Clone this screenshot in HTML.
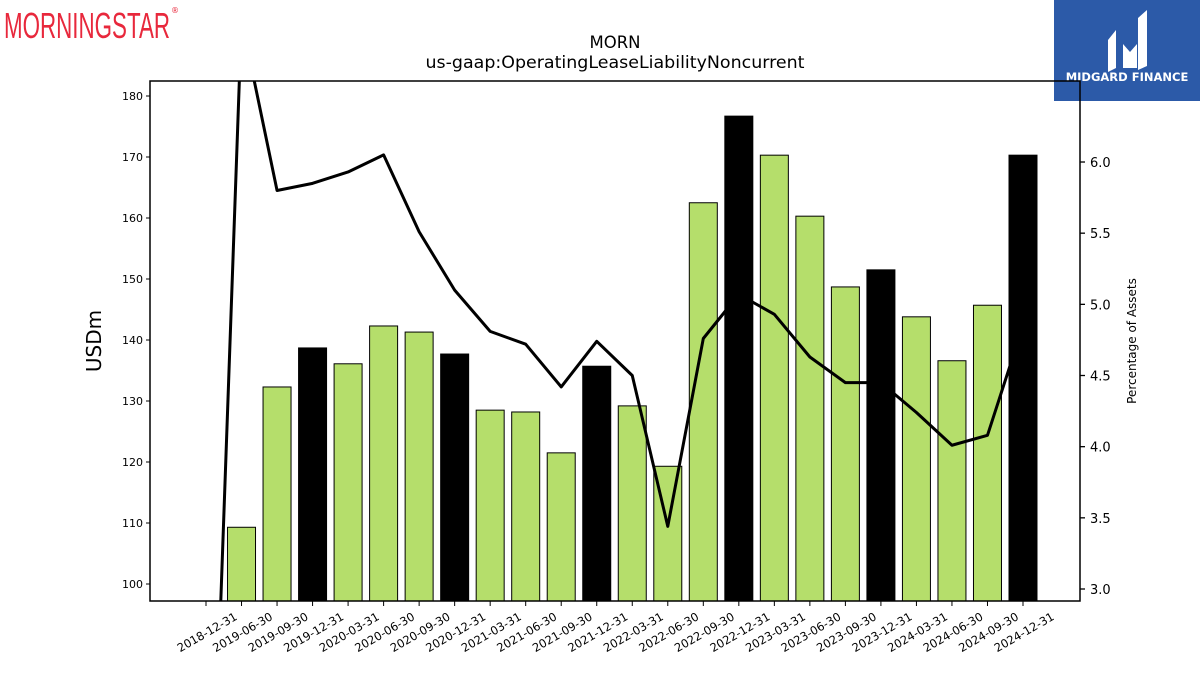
<!DOCTYPE html>
<html><head><meta charset="utf-8"><style>
html,body{margin:0;padding:0;background:#fff;width:1200px;height:675px;overflow:hidden;font-family:"Liberation Sans","DejaVu Sans",sans-serif}
svg{display:block}
</style></head><body>
<svg id="chart" width="1200" height="675" xmlns="http://www.w3.org/2000/svg" font-family="DejaVu Sans, Liberation Sans, sans-serif">
<g>
<text x="4" y="38" font-family="Liberation Sans Narrow, Liberation Sans, sans-serif" font-size="36" fill="#e8283c" textLength="166" lengthAdjust="spacingAndGlyphs">MORNINGSTAR</text>
<text x="171" y="13" font-size="8" fill="#e8283c">®</text>
</g>
<g>
<rect x="1054" y="0" width="146" height="101" fill="#2c5aa8"/>
<path d="M1108 40 L1116 30 L1116 68 L1108 72 Z M1123 44 L1130 52 L1137 44 L1137 68 L1123 68 Z M1138 18 L1147 10 L1147 66 L1138 70 Z" fill="#fff"/>
<text x="1127" y="81" font-size="11.5" font-weight="bold" fill="#fff" text-anchor="middle">MIDGARD FINANCE</text>
</g>
<text x="615" y="48" font-size="16.5" text-anchor="middle">MORN</text>
<text x="615" y="68" font-size="16.5" text-anchor="middle" textLength="379" lengthAdjust="spacingAndGlyphs">us-gaap:OperatingLeaseLiabilityNoncurrent</text>
<g id="plot"></g>
<text transform="translate(101,341) rotate(-90)" font-size="20" text-anchor="middle">USDm</text>
<text transform="translate(1136,341) rotate(-90)" font-size="12" text-anchor="middle">Percentage of Assets</text>
</svg>
<script>
const categories=["2018-12-31","2019-06-30","2019-09-30","2019-12-31","2020-03-31","2020-06-30","2020-09-30","2020-12-31","2021-03-31","2021-06-30","2021-09-30","2021-12-31","2022-03-31","2022-06-30","2022-09-30","2022-12-31","2023-03-31","2023-06-30","2023-09-30","2023-12-31","2024-03-31","2024-06-30","2024-09-30","2024-12-31"];
const barValues=[0,109.3,132.3,138.7,136.1,142.3,141.3,137.7,128.5,128.2,121.5,135.7,129.2,119.3,162.5,176.7,170.3,160.3,148.7,151.5,143.8,136.6,145.7,170.3];
const yearEnd=[false,false,false,true,false,false,false,true,false,false,false,true,false,false,false,true,false,false,false,true,false,false,false,true];
const pctValues=[0,7.0,5.80,5.85,5.93,6.05,5.51,5.10,4.81,4.72,4.42,4.74,4.50,3.44,4.76,5.07,4.93,4.63,4.45,4.45,4.24,4.01,4.08,4.85];
const leftTicks=[100,110,120,130,140,150,160,170,180];
const rightTicks=["3.0","3.5","4.0","4.5","5.0","5.5","6.0"];
const NS="http://www.w3.org/2000/svg";
const L=150,R=1080,T=81,B=601;
const x=i=>206+i*(1023-206)/23;
const y=v=>584-(v-100)*6.1;
const y2=v=>589-(v-3)*142.33;
const plot=document.getElementById('plot');
function mk(tag,a){const e=document.createElementNS(NS,tag);for(const k in a)e.setAttribute(k,a[k]);plot.appendChild(e);return e;}
const defs=mk('defs',{});const cp=document.createElementNS(NS,'clipPath');cp.setAttribute('id','clip');
const cr=document.createElementNS(NS,'rect');cr.setAttribute('x',L);cr.setAttribute('y',T);cr.setAttribute('width',R-L);cr.setAttribute('height',B-T);cp.appendChild(cr);defs.appendChild(cp);
const g=mk('g',{'clip-path':'url(#clip)'});
barValues.forEach((v,i)=>{
 if(v<=0)return;
 const r=document.createElementNS(NS,'rect');
 const top=y(v);
 r.setAttribute('x',x(i)-14);r.setAttribute('y',top);r.setAttribute('width',28);r.setAttribute('height',B-top+2);
 r.setAttribute('fill',yearEnd[i]?'#000':'#b5de6b');r.setAttribute('stroke','#000');r.setAttribute('stroke-width','1');
 
 
 g.appendChild(r);
});
const pl=document.createElementNS(NS,'polyline');
pl.setAttribute('points',pctValues.map((v,i)=>x(i)+','+y2(v)).join(' '));
pl.setAttribute('fill','none');pl.setAttribute('stroke','#000');pl.setAttribute('stroke-width','3');pl.setAttribute('stroke-linejoin','round');


g.appendChild(pl);
const frame=mk('rect',{x:L,y:T,width:R-L,height:B-T,fill:'none',stroke:'#000','stroke-width':1.5});


leftTicks.forEach(t=>{
 mk('line',{x1:L-4,x2:L,y1:y(t),y2:y(t),stroke:'#000'});
 const tx=mk('text',{x:L-7,y:y(t)+4,'font-size':11,'text-anchor':'end'});tx.textContent=t;
 
 
});
rightTicks.forEach(t=>{
 const v=parseFloat(t);
 mk('line',{x1:R,x2:R+5,y1:y2(v),y2:y2(v),stroke:'#000','stroke-width':1.3});
 const tx=mk('text',{x:R+10,y:y2(v)+5,'font-size':13});tx.textContent=t;
 
 
});
categories.forEach((c,i)=>{
 mk('line',{x1:x(i),x2:x(i),y1:B,y2:B+5,stroke:'#000'});
 const tx=mk('text',{transform:`translate(${x(i)+32},${B+18}) rotate(-30)`,'font-size':11.5,'text-anchor':'end'});tx.textContent=c;
 
 
});
</script>
</body></html>
